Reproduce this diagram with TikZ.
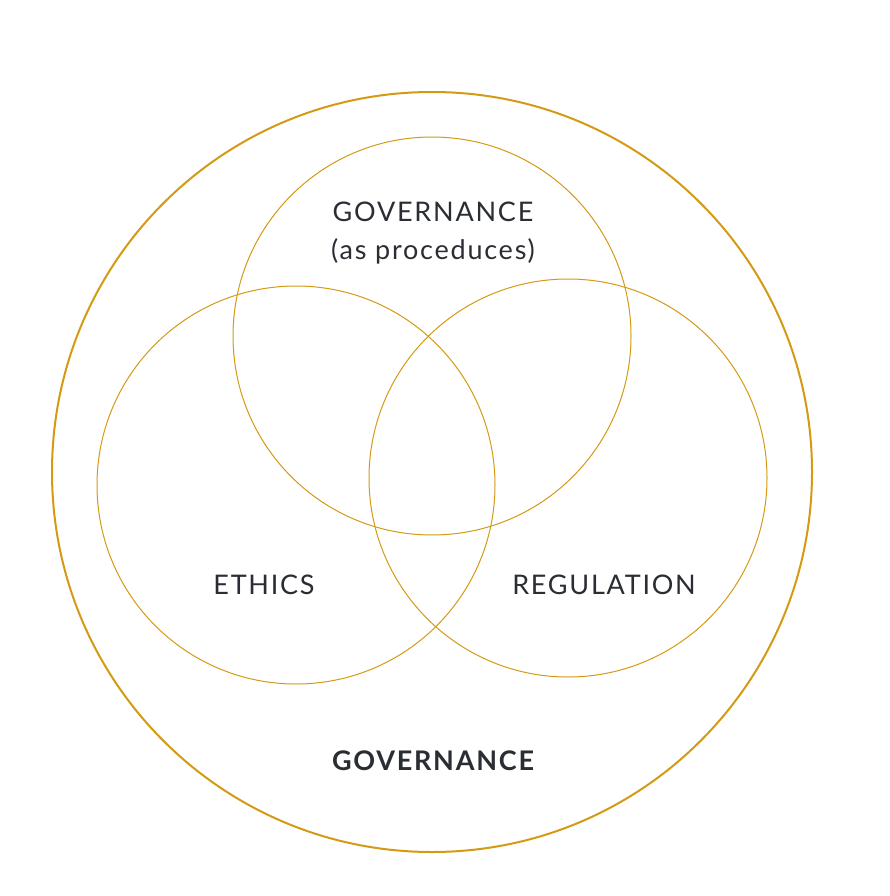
\documentclass[tikz,border=0pt]{standalone}
\usepackage{fontspec}
\setmainfont{Lato}
\definecolor{gold}{RGB}{212,154,20}
\definecolor{ink}{RGB}{42,45,52}
\newfontfamily\lblfont[LetterSpace=6.5]{Lato}
\begin{document}
\begin{tikzpicture}[x=1pt,y=-1pt,
  outer/.style={draw=gold,line width=2pt},
  ring/.style={draw=gold,line width=1pt},
  lbl/.style={text=ink,font=\lblfont\fontsize{27}{38}\selectfont,align=center,inner sep=0pt}]
\useasboundingbox (0,0) rectangle (890,896);
% enclosing governance circle
\draw[outer] (432,472) circle[radius=380];
% three overlapping circles
\draw[ring] (432,336) circle[radius=199];
\draw[ring] (296,485) circle[radius=199];
\draw[ring] (568,478) circle[radius=199];
% labels
\node[lbl] (gov) at (433,233) {GOVERNANCE\\(as proceduces)};
\node[lbl] (eth) at (264,585) {ETHICS};
\node[lbl] (reg) at (604,585) {REGULATION};
\node[lbl,font=\lblfont\fontsize{27}{38}\selectfont\bfseries] (govall) at (433,761) {GOVERNANCE};
\end{tikzpicture}
\end{document}
